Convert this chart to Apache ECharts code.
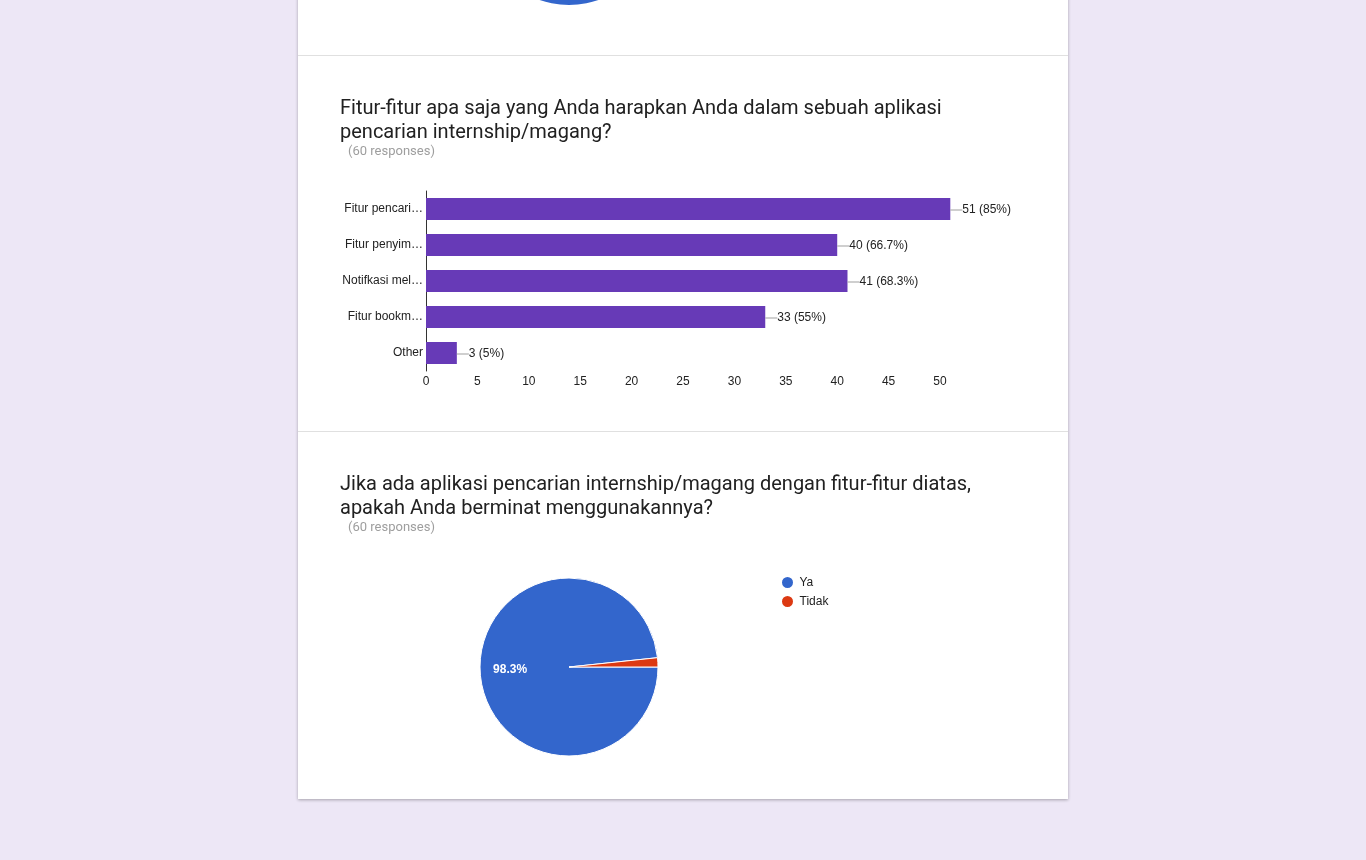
<!DOCTYPE html>
<html>
<head>
<meta charset="utf-8">
<script src="https://cdn.jsdelivr.net/npm/echarts@6/dist/echarts.min.js"></script>
<style>
  html, body { margin: 0; padding: 0; background: #ede7f6; }
  #page { width: 1366px; height: 860px; }
</style>
</head>
<body>
<div id="page"></div>
<script>
// jumlah responden
var totalResponses = 60;

// pertanyaan 1 (bar)
var fiturCategories = ['Fitur pencari…', 'Fitur penyim…', 'Notifkasi mel…', 'Fitur bookm…', 'Other'];
var fiturValues = [51, 40, 41, 33, 3];
var fiturTicks = [0, 5, 10, 15, 20, 25, 30, 35, 40, 45, 50];

// pertanyaan 2 (pie)
var minatNames = ['Ya', 'Tidak'];
var minatValues = [59, 1];

// sisa pie dari pertanyaan sebelumnya (hanya bagian bawah terlihat)
var prevNames = ['Ya'];
var prevValues = [60];

var font = '"Liberation Sans", Arial, sans-serif';

var myChart = echarts.init(document.getElementById('page'));

function pct(v) {
    return Math.round(v / totalResponses * 1000) / 10;
}

function titleText(str, y, size, color, x) {
    return {
        type: 'text', x: x || 340, y: y,
        style: { text: str, fill: color, fontSize: size, fontFamily: 'Roboto', verticalAlign: 'middle' }
    };
}

var option = {
    backgroundColor: '#ede7f6',
    animation: false,
    color: ['#3366cc', '#dc3912'],
    graphic: [
        {
            type: 'rect', z: -10,
            shape: { x: 298, y: -10, width: 770, height: 809 },
            style: { fill: '#fff', shadowBlur: 3, shadowOffsetY: 1, shadowColor: 'rgba(0,0,0,0.3)' }
        },
        { type: 'rect', z: -9, shape: { x: 298, y: 55, width: 770, height: 1 }, style: { fill: '#e0e0e0' } },
        { type: 'rect', z: -9, shape: { x: 298, y: 431, width: 770, height: 1 }, style: { fill: '#e0e0e0' } },
        titleText('Fitur-fitur apa saja yang Anda harapkan Anda dalam sebuah aplikasi', 109, 20, '#212121'),
        titleText('pencarian internship/magang?', 133, 20, '#212121'),
        titleText('(' + totalResponses + ' responses)', 152, 13, '#9e9e9e', 348),
        titleText('Jika ada aplikasi pencarian internship/magang dengan fitur-fitur diatas,', 485, 20, '#212121'),
        titleText('apakah Anda berminat menggunakannya?', 509, 20, '#212121'),
        titleText('(' + totalResponses + ' responses)', 528, 13, '#9e9e9e', 348)
    ],
    legend: {
        data: minatNames,
        orient: 'vertical',
        left: 780,
        top: 575,
        padding: 0,
        icon: 'circle',
        itemWidth: 14,
        itemHeight: 13,
        itemGap: 4,
        textStyle: { color: '#222', fontSize: 12, fontFamily: font }
    },
    grid: {
        left: 426,
        top: 191,
        width: 524.3,
        height: 180,
        containLabel: false
    },
    xAxis: {
        type: 'value',
        min: 0,
        max: 51,
        interval: 5,
        axisLine: { show: false },
        axisTick: { show: false },
        splitLine: { show: false },
        axisLabel: {
            color: '#222', fontSize: 12, fontFamily: font, margin: 5, showMaxLabel: false,
            formatter: function (v) { return fiturTicks.indexOf(v) >= 0 ? String(v) : ''; }
        }
    },
    yAxis: {
        type: 'category',
        inverse: true,
        data: fiturCategories,
        axisLine: { show: true, lineStyle: { color: '#333', width: 1 } },
        axisTick: { show: false },
        axisLabel: { color: '#222', fontSize: 12, fontFamily: font, margin: 3 }
    },
    series: [
        {
            name: 'fitur',
            type: 'bar',
            data: fiturValues,
            barWidth: 22,
            itemStyle: { color: '#673ab7' },
            label: {
                show: true,
                position: 'right',
                distance: 0,
                offset: [0, 1],
                formatter: function (p) {
                    return '{line| }{t|' + p.value + ' (' + pct(p.value) + '%)}';
                },
                rich: {
                    line: { width: 12, height: 1, backgroundColor: '#9e9e9e', verticalAlign: 'middle' },
                    t: { color: '#222', fontSize: 12, fontFamily: font, verticalAlign: 'middle' }
                }
            }
        },
        {
            name: 'minat',
            type: 'pie',
            center: [569, 667],
            radius: 89,
            startAngle: 0,
            clockwise: true,
            percentPrecision: 1,
            label: { show: false },
            labelLine: { show: false },
            itemStyle: { borderColor: '#fff', borderWidth: 1 },
            data: minatNames.map(function (n, i) { return { name: n, value: minatValues[i] }; })
        },
        {
            // seri transparan khusus untuk label persentase di dalam slice
            name: 'minatLabel',
            type: 'pie',
            center: [569, 667],
            radius: [23, 89],
            startAngle: 0,
            clockwise: true,
            silent: true,
            percentPrecision: 1,
            itemStyle: { color: 'rgba(0,0,0,0)' },
            label: {
                show: true,
                position: 'inside',
                color: '#fff',
                fontSize: 12,
                fontWeight: 'bold',
                fontFamily: font,
                formatter: function (p) { return p.percent > 5 ? p.percent + '%' : ''; }
            },
            labelLine: { show: false },
            data: minatNames.map(function (n, i) { return { name: n, value: minatValues[i] }; })
        },
        {
            name: 'prev',
            type: 'pie',
            center: [569, -84],
            radius: 89,
            silent: true,
            label: { show: false },
            itemStyle: { color: '#3366cc' },
            data: prevNames.map(function (n, i) { return { name: 'prev ' + n, value: prevValues[i] }; })
        }
    ]
};

myChart.setOption(option);
window.addEventListener('resize', function () {
    myChart.resize();
});
</script>
</body>
</html>
